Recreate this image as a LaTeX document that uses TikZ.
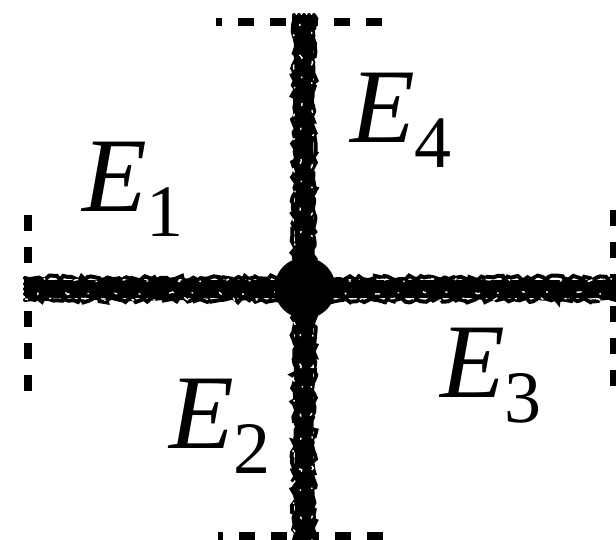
\documentclass[tikz,border=0pt]{standalone}
\usepackage{fontspec}
\setmainfont{Liberation Serif}
\usetikzlibrary{decorations.pathmorphing}
\newcommand\Elab[1]{{\fontsize{106}{106}\selectfont\itshape E}\raisebox{-25pt}{\fontsize{74}{74}\selectfont #1}}
\begin{document}
\begin{tikzpicture}[x=1pt,y=-1pt,
  core/.style={draw=black, line width=18pt},
  rough/.style={draw=black, line width=4pt, line cap=round, decorate,
    decoration={random steps, segment length=4pt, amplitude=2.5pt}},
  speck/.style={draw=white, line width=1.4pt, decorate,
    dash pattern=on 3pt off 23pt on 2pt off 31pt on 5pt off 19pt on 1.5pt off 27pt,
    decoration={random steps, segment length=3pt, amplitude=1.5pt}},
  dashline/.style={draw=black, line width=8pt, dash pattern=on 16pt off 16pt},
  lab/.style={inner sep=0pt, anchor=base west},
  dot/.style={circle, fill=black, minimum size=61pt, inner sep=0pt},
]
\useasboundingbox (0,0) rectangle (616,540);
\pgfmathsetseed{11}
% endpoints
\coordinate (T) at (304,15);
\coordinate (B) at (304,540);
\coordinate (L) at (25,289);
\coordinate (R) at (616,289);
% dashed boundary marks
\coordinate (ta) at (216,22);  \coordinate (tb) at (382,22);
\coordinate (ba) at (218,536); \coordinate (bb) at (383,536);
\coordinate (la) at (27.5,215); \coordinate (lb) at (27.5,391);
\coordinate (ra) at (614,210); \coordinate (rb) at (614,386);
\draw[dashline, dash phase=10pt] (ta) -- (tb);
\draw[dashline, dash phase=11pt] (ba) -- (bb);
\draw[dashline] (la) -- (lb);
\draw[dashline] (ra) -- (rb);
% rough vertical stroke
\draw[core] (T) -- (B);
\foreach \s in {-10,-5,0,5,10}{
  \draw[rough] ([xshift=\s pt]T) -- ([xshift=\s pt]B);
}
% rough horizontal stroke
\draw[core] (L) -- (R);
\foreach \s in {-11,-5,0,5,11}{
  \draw[rough] ([yshift=\s pt]L) -- ([yshift=\s pt]R);
}
% white specks
\draw[speck, dash phase=0pt] ([yshift=-10pt]L) -- ([yshift=-10pt]R);
\draw[speck, dash phase=13pt] ([yshift=-4pt]L) -- ([yshift=-4pt]R);
\draw[speck, dash phase=7pt] ([yshift=9pt]L) -- ([yshift=9pt]R);
\draw[speck, dash phase=5pt] ([xshift=-10pt]T) -- ([xshift=-10pt]B);
\draw[speck, dash phase=17pt] ([xshift=-3pt]T) -- ([xshift=-3pt]B);
\draw[speck, dash phase=9pt] ([xshift=8pt]T) -- ([xshift=8pt]B);
% junction
\node[dot] (c) at (305,288) {};
% labels
\node[lab] (e1) at (82,212) {\Elab{1}};
\node[lab] (e4) at (350,143) {\Elab{4}};
\node[lab] (e2) at (169,448) {\Elab{2}};
\node[lab] (e3) at (440,397) {\Elab{3}};
\end{tikzpicture}
\end{document}
